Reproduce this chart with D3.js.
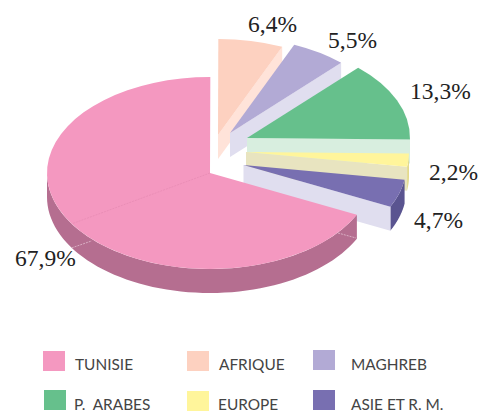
<!DOCTYPE html>
<html><head><meta charset="utf-8">
<script src="https://cdn.jsdelivr.net/npm/d3@7/dist/d3.min.js"></script>
<style>html,body{margin:0;padding:0;background:#fff;overflow:hidden}svg{display:block}</style>
</head><body><svg id="c" width="484" height="414"></svg>
<script>
const categories = ["TUNISIE","AFRIQUE","MAGHREB","P.  ARABES","EUROPE","ASIE ET R. M."];
const values = [67.9,6.4,5.5,13.3,2.2,4.7];
const valueLabels = ["67,9%","6,4%","5,5%","13,3%","2,2%","4,7%"];

const topColors  = ["#f498c0","#fdd1c0","#b2aad5","#66c08c","#fff59b","#786fb1"];
const cutColors  = [null,"#ffe3d9","#e0deef","#d8eedf","#e8e4c0","#e0deef"];
const sideColors = ["#b56e90","#e0c0b0","#8a84b0","#4f9a70","#e3d98a","#5a5490"];
const centers = [[210,173],[218,135],[230,133],[247,138],[246,152],[243.5,165]];
const labelPos = [[15,266],[248,32],[328,48],[410,99],[429,180],[414,228]];
const legendPos = [[43,351,75,370],[187,351,219,370],[313,350,351,370],[44,390,74,410],[187,391,218,410],[313,390,351,410]];
const drawOrder = [1,2,3,4,5,0];
const RX = 163, RY = 96, DEPTH = 24, START = 115.7*Math.PI/180;

const svg = d3.select("#c");
const arcs = d3.pie().sort(null).value(d=>d)
  .startAngle(START).endAngle(START+2*Math.PI)(values);
const arc = d3.arc().innerRadius(0).outerRadius(1);
const x = d3.scaleLinear().domain([0,1]).range([0,RX]);
const y = d3.scaleLinear().domain([0,1]).range([0,RY]);
const px = (a,r=1)=> x(r*Math.sin(a));
const py = (a,r=1)=> -y(r*Math.cos(a));
const line = d3.line();
const TAU = 2*Math.PI;

drawOrder.forEach(i=>{
  const d = arcs[i], [cx,cy] = centers[i];
  const wrap = d.startAngle >= TAU - 1e-6 ? TAU : 0;
  const s = d.startAngle - wrap, e = d.endAngle - wrap;
  const g = svg.append("g").attr("transform",`translate(${cx},${cy})`);
  // outer wall (front-facing part only)
  const a0 = Math.max(s, Math.PI/2);
  const a1 = Math.min(e, 1.5*Math.PI);
  if (a1 > a0) {
    const as = d3.range(0,61).map(k=>a0+(a1-a0)*k/60);
    const pts = as.map(a=>[px(a),py(a)]).concat(as.slice().reverse().map(a=>[px(a),py(a)+DEPTH]));
    g.append("path").attr("d",line(pts)+"Z").attr("fill",sideColors[i]);
  }
  // cut face at the clockwise-end of the slice
  if (cutColors[i]) {
    g.append("path").attr("d",line([[0,0],[px(e),py(e)],[px(e),py(e)+DEPTH],[0,DEPTH]])+"Z")
      .attr("fill",cutColors[i]);
  }
  // top face: unit arc stretched to the ellipse
  g.append("path").attr("d",arc({startAngle:s,endAngle:e}))
    .attr("transform",`scale(${RX},${RY})`).attr("fill",topColors[i]);
  if (i===0) {
    const sa = 238*Math.PI/180;
    g.append("line").attr("x1",0).attr("y1",0).attr("x2",px(sa)).attr("y2",py(sa))
      .attr("stroke","#e58ab2").attr("stroke-width",.7).attr("stroke-dasharray","2 1");
    g.append("line").attr("x1",px(sa)).attr("y1",py(sa)+DEPTH).attr("x2",px(sa)+20).attr("y2",py(sa)+DEPTH-7)
      .attr("stroke","#e8c8d8").attr("stroke-width",.7).attr("stroke-dasharray","2 1");
    g.append("line").attr("x1",128).attr("y1",60).attr("x2",146).attr("y2",65)
      .attr("stroke","#e8c8d8").attr("stroke-width",.7).attr("stroke-dasharray","2 1");
  }
});

svg.append("g").selectAll("text").data(valueLabels).join("text")
  .attr("x",(d,i)=>labelPos[i][0]).attr("y",(d,i)=>labelPos[i][1])
  .attr("font-family","'Liberation Serif',serif").attr("font-size",23.5).attr("fill","#222")
  .text(d=>d);

const leg = svg.append("g");
categories.forEach((c,i)=>{
  const p = legendPos[i];
  leg.append("rect").attr("x",p[0]).attr("y",p[1]).attr("width",22).attr("height",20).attr("fill",topColors[i]);
  leg.append("text").attr("x",p[2]).attr("y",p[3]).style("white-space","pre")
    .attr("font-family","Lato,sans-serif").attr("font-size",15.4).attr("fill","#444").text(c);
});
</script></body></html>
